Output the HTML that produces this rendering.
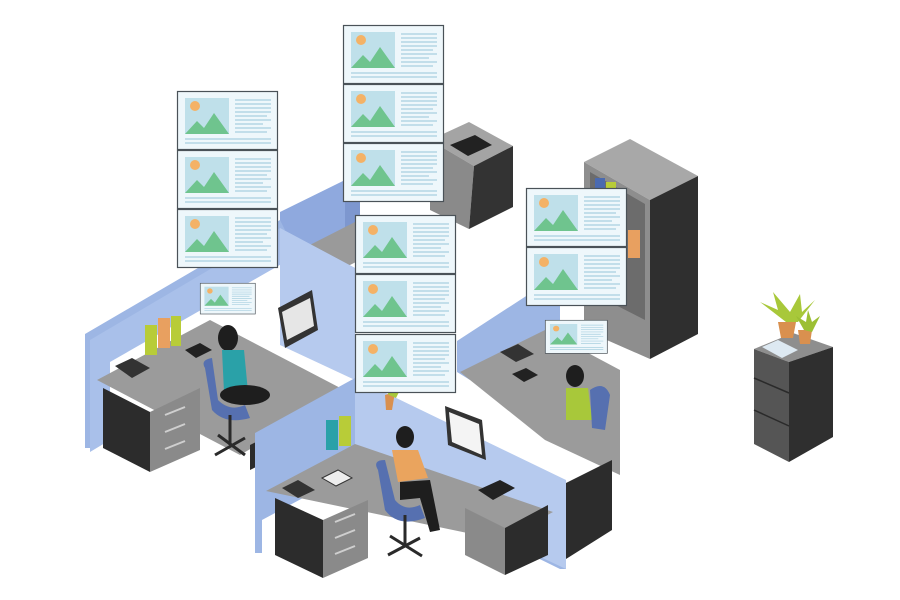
<!DOCTYPE html>
<html><head><meta charset="utf-8"><style>html,body{margin:0;padding:0;background:#fff}svg{display:block}</style></head>
<body>
<svg width="900" height="600" viewBox="0 0 900 600" xmlns="http://www.w3.org/2000/svg">
<defs>
<g id="card">
<rect x="0.5" y="0.5" width="100" height="58" fill="#eef7fb" stroke="#4a5258" stroke-width="1.2"/>
<rect x="8" y="7" width="44" height="36" fill="#bfe0ea"/>
<circle cx="18" cy="15" r="5" fill="#f4b266"/>
<polygon points="8,43 20,30 27,37 37,22 52,43" fill="#6fc48e"/>
<g stroke="#a8d0e0" stroke-width="1.2">
<line x1="58" y1="9" x2="94" y2="9"/><line x1="58" y1="13" x2="94" y2="13"/><line x1="58" y1="17" x2="94" y2="17"/><line x1="58" y1="21" x2="94" y2="21"/><line x1="58" y1="25" x2="90" y2="25"/><line x1="58" y1="29" x2="94" y2="29"/><line x1="58" y1="33" x2="86" y2="33"/><line x1="58" y1="37" x2="94" y2="37"/><line x1="58" y1="41" x2="90" y2="41"/>
<line x1="8" y1="48" x2="94" y2="48"/><line x1="8" y1="52" x2="94" y2="52"/></g>
</g>
</defs>

<!-- top cabinet -->
<polygon points="430,140 469,122 513,146 474,166" fill="#a4a4a4"/>
<polygon points="430,140 474,166 469,229 430,210" fill="#8a8a8a"/>
<polygon points="474,166 513,146 513,207 469,229" fill="#333"/>
<polygon points="450,145 475,135 492,145 468,156" fill="#222"/>

<!-- tall cabinet -->
<polygon points="584,162 630,139 698,176 650,200" fill="#a8a8a8"/>
<polygon points="584,162 650,200 650,359 584,330" fill="#8e8e8e"/>
<polygon points="590,172 645,204 645,320 590,292" fill="#6c6c6c"/>
<rect x="595" y="178" width="10" height="20" fill="#4a6ab0"/><rect x="606" y="182" width="10" height="20" fill="#b8cc38"/>
<rect x="628" y="230" width="12" height="28" fill="#e8a060"/>
<polygon points="650,200 698,176 698,334 650,359" fill="#2f2f2f"/>

<!-- far right cabinet -->
<polygon points="754,349 793,333 833,347 789,362" fill="#8e8e8e"/>
<polygon points="754,349 789,362 789,462 754,444" fill="#555"/>
<g stroke="#2a2a2a" stroke-width="1.5" fill="none"><line x1="754" y1="378" x2="789" y2="393"/><line x1="754" y1="410" x2="789" y2="426"/></g>
<polygon points="789,362 833,347 833,437 789,462" fill="#2f2f2f"/>
<polygon points="762,347 778,340 798,350 782,358" fill="#dde9f2"/>
<polygon points="778,322 796,322 793,338 781,338" fill="#d9904f"/>
<polygon points="798,330 812,330 810,344 800,344" fill="#d9904f"/>
<path d="M786,322 L760,302 L778,310 L773,292 L790,312 L800,294 L802,312 L815,300 L798,322 Z" fill="#a8c83a"/>
<path d="M804,330 L796,316 L806,322 L808,310 L812,322 L820,316 L812,332 Z" fill="#9cbf34"/>

<!-- back cubicle walls (upper middle) -->
<polygon points="280,212 345,180 345,230 280,262" fill="#8fa9de"/>
<polygon points="345,180 360,188 360,250 345,243" fill="#7d97cf"/>
<polygon points="300,250 355,222 360,260 310,285" fill="#9a9a9a"/>

<!-- left cubicle -->
<polygon points="85,334 280,220 285,230 90,345 90,448 85,448" fill="#9db6e4"/>
<polygon points="90,340 280,228 355,268 355,300 285,262 110,362 110,440 90,452" fill="#a9c0ea"/>
<polygon points="280,228 355,268 355,380 280,345" fill="#b6caee"/>
<polygon points="97,380 210,320 348,392 240,455" fill="#9b9b9b"/>
<polygon points="103,388 150,412 150,472 103,448" fill="#2c2c2c"/>
<polygon points="150,412 200,388 200,450 150,472" fill="#8a8a8a"/>
<g stroke="#cfcfcf" stroke-width="2"><line x1="165" y1="415" x2="185" y2="407"/><line x1="165" y1="432" x2="185" y2="424"/><line x1="165" y1="449" x2="185" y2="441"/></g>
<polygon points="250,445 270,435 270,460 250,470" fill="#2c2c2c"/>
<rect x="145" y="325" width="12" height="30" fill="#b8cc38"/><rect x="158" y="318" width="12" height="30" fill="#e8a060"/><rect x="171" y="316" width="10" height="30" fill="#b8cc38"/>
<polygon points="115,366 132,358 150,368 132,378" fill="#333"/>
<polygon points="185,350 200,343 212,350 196,358" fill="#222"/>
<polygon points="278,308 312,290 318,330 285,348" fill="#333"/><polygon points="282,312 310,298 314,326 287,340" fill="#e6e6e6"/>
<!-- woman left -->
<ellipse cx="228" cy="338" rx="10" ry="13" fill="#1e1e1e"/>
<polygon points="222,350 244,350 248,392 224,392" fill="#2aa1a8"/>
<ellipse cx="245" cy="395" rx="25" ry="10" fill="#1e1e1e"/>
<path d="M205,368 Q200,360 212,358 L218,400 Q230,412 245,405 L250,418 Q225,425 212,410 Z" fill="#5670b0"/>
<g stroke="#2a2a2a" stroke-width="3"><line x1="230" y1="415" x2="230" y2="445"/><line x1="215" y1="455" x2="245" y2="438"/><line x1="218" y1="435" x2="245" y2="455"/></g>

<!-- right cubicle -->
<polygon points="457,341 540,287 560,297 560,330 470,380 457,372" fill="#9db6e4"/>
<polygon points="460,372 545,330 620,370 620,475 545,440" fill="#9b9b9b"/>
<polygon points="566,483 612,460 612,530 566,559" fill="#2c2c2c"/>
<polygon points="500,352 518,344 534,354 516,362" fill="#333"/>
<polygon points="512,374 526,368 538,375 524,382" fill="#222"/>
<ellipse cx="575" cy="376" rx="9" ry="11" fill="#1e1e1e"/>
<polygon points="566,388 588,388 592,420 566,420" fill="#a8c83a"/>
<path d="M590,390 Q604,380 610,395 L605,430 L592,428 Z" fill="#5670b0"/>

<!-- bottom cubicle walls -->
<polygon points="255,433 355,378 460,430 560,480 566,569 560,569 460,520 355,470 262,520 262,553 255,553" fill="#9db6e4"/>
<polygon points="355,378 566,480 566,569 355,470" fill="#b6caee"/>
<polygon points="266,491 355,444 553,512 501,540" fill="#9b9b9b"/>
<polygon points="275,498 323,520 323,578 275,555" fill="#2c2c2c"/>
<polygon points="323,520 368,500 368,558 323,578" fill="#8a8a8a"/>
<g stroke="#cfcfcf" stroke-width="2"><line x1="335" y1="522" x2="355" y2="514"/><line x1="335" y1="538" x2="355" y2="530"/><line x1="335" y1="554" x2="355" y2="546"/></g>
<polygon points="465,508 505,528 505,575 465,555" fill="#8a8a8a"/>
<polygon points="505,528 548,505 548,555 505,575" fill="#2c2c2c"/>
<rect x="326" y="420" width="12" height="30" fill="#2aa1a8"/><rect x="339" y="416" width="12" height="30" fill="#b8cc38"/>
<polygon points="282,488 298,480 315,490 298,498" fill="#333"/>
<polygon points="322,478 338,470 352,478 336,486" fill="#eee" stroke="#333"/>
<polygon points="445,406 482,420 486,460 448,445" fill="#333"/><polygon points="449,412 479,424 482,455 452,442" fill="#f4f4f4"/>
<polygon points="478,490 500,480 515,488 493,500" fill="#222"/>
<polygon points="385,395 395,392 392,410 386,410" fill="#d9904f"/>
<path d="M389,395 L380,382 L390,388 L392,376 L396,390 L404,382 L396,398 Z" fill="#a8c83a"/>
<!-- man -->
<ellipse cx="405" cy="437" rx="9" ry="11" fill="#1e1e1e"/>
<polygon points="392,450 418,450 428,478 398,482" fill="#eaa45e"/>
<polygon points="400,482 430,480 440,530 430,532 420,498 400,500" fill="#1e1e1e"/>
<path d="M378,470 Q372,460 385,460 L395,500 Q405,512 420,505 L425,518 Q398,528 385,510 Z" fill="#5670b0"/>
<g stroke="#2a2a2a" stroke-width="3"><line x1="405" y1="515" x2="405" y2="545"/><line x1="388" y1="555" x2="420" y2="538"/><line x1="390" y1="536" x2="422" y2="556"/></g>

<!-- cards -->
<use href="#card" x="177" y="91"/><use href="#card" x="177" y="150"/><use href="#card" x="177" y="209"/>
<use href="#card" x="343" y="25"/><use href="#card" x="343" y="84"/><use href="#card" x="343" y="143"/>
<use href="#card" x="355" y="215"/><use href="#card" x="355" y="274"/><use href="#card" x="355" y="334"/>
<use href="#card" x="526" y="188"/><use href="#card" x="526" y="247"/>
<use href="#card" transform="translate(200,283) scale(0.55,0.53)"/>
<use href="#card" transform="translate(545,320) scale(0.62,0.57)"/>
</svg>
</body></html>
